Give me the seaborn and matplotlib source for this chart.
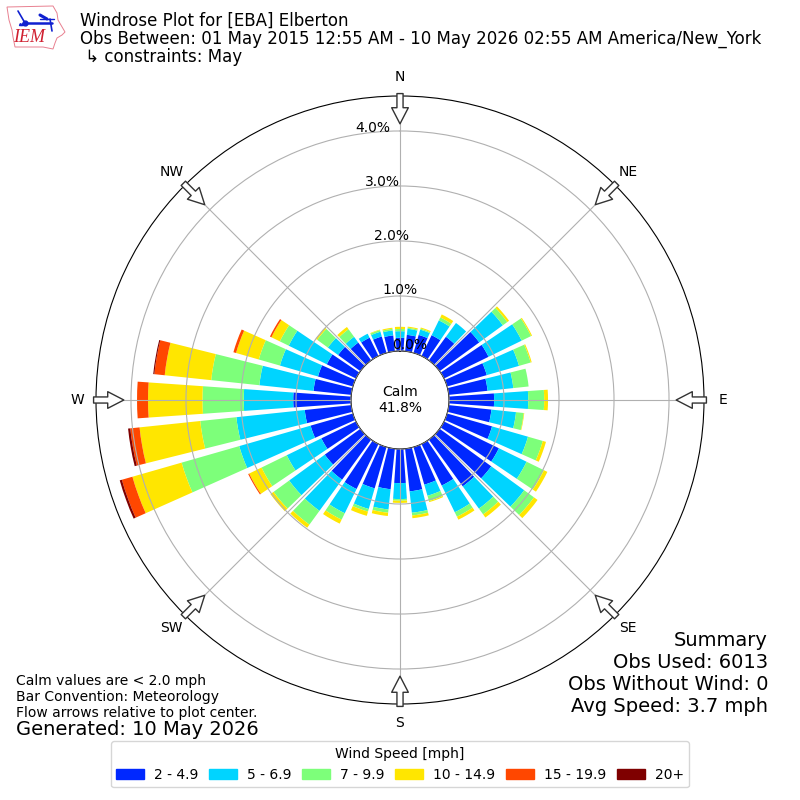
import numpy as np
import pandas as pd
import matplotlib
matplotlib.use('Agg')
import matplotlib.pyplot as plt
from matplotlib.patches import Patch
import seaborn as sns

# direction each bar points from, degrees (meteorological)
directions = list(range(0, 360, 10))

# percent of observations per speed class, one value per direction
speed_2_5 = [.24, .30, .34, .42, .53, .89, .90, .75, .71, .82, .78, .85,
             1.11, 1.16, 1.05, .84, .71, .78, .62, .74, .78, .91, .90, .80,
             .70, .80, .85, 1.05, .69, .66, .59, .50, .40, .37, .31, .29]
speed_5_7 = [.12, .11, .10, .30, .31, .53, .67, .61, .47, .62, .45, .68,
             .56, .74, .50, .54, .21, .39, .29, .37, .39, .49, .70, .80,
             .70, 1.35, 1.25, .90, .99, .72, .77, .23, .13, .08, .09, .09]
speed_7_10 = [.04, .02, .02, .06, 0, .10, .19, .22, .28, .29, .14, .28,
              .35, .22, .13, .09, .10, .05, .03, .06, .05, .13, .31, .35,
              .51, 1.09, .66, .75, .88, .40, .18, .24, .17, 0, .03, .03]
speed_10_15 = [.04, .02, .02, .06, 0, .04, .02, .02, 0, .07, .01, .06,
               .07, .08, .07, .06, .02, .05, .04, .06, .08, .08, .07, .07,
               .25, .93, 1.11, .99, .85, .43, .17, .03, .05, 0, .01, .02]
speed_15_20 = [0, 0, 0, 0, 0, 0, 0, 0, 0, 0, 0, 0,
               0, 0, 0, 0, 0, 0, 0, 0, 0, 0, 0, 0,
               .02, .20, .17, .20, .19, .05, .03, 0, 0, 0, 0, 0]
speed_20 = [0, 0, 0, 0, 0, 0, 0, 0, 0, 0, 0, 0,
            0, 0, 0, 0, 0, 0, 0, 0, 0, 0, 0, 0,
            0, .04, .04, 0, .02, 0, 0, 0, 0, 0, 0, 0]

speed_labels = ['2 - 4.9', '5 - 6.9', '7 - 9.9', '10 - 14.9', '15 - 19.9', '20+']
speed_colors = ['#0028ff', '#00d4ff', '#7dff7a', '#ffe600', '#ff4700', '#7f0000']
speed_values = [speed_2_5, speed_5_7, speed_7_10, speed_10_15, speed_15_20, speed_20]

compass = ['N', 'NE', 'E', 'SE', 'S', 'SW', 'W', 'NW']
compass_deg = [0, 45, 90, 135, 180, 225, 270, 315]
ring_ticks = [0, 1, 2, 3, 4]

# outline of the logo, roughly Iowa
logo_x = [7, 53, 57, 58, 65, 62, 57, 55, 53, 43, 15, 13, 12, 9, 7]
logo_y = [7, 6, 13, 20, 32, 35, 38, 43, 49, 47, 47, 37, 30, 20, 7]

rows = []
for label, vals in zip(speed_labels, speed_values):
    for d, v in zip(directions, vals):
        rows.append({'dir': np.radians(d), 'speed': label, 'pct': v})
df = pd.DataFrame(rows)

sns.set_style('white', {'axes.edgecolor': 'black', 'text.color': 'black',
                        'xtick.color': 'black', 'ytick.color': 'black'})
plt.rcParams['font.family'] = ['DejaVu Sans']

fig = plt.figure(figsize=(8, 8), dpi=100)
ax = fig.add_axes([0.12, 0.12, 0.76, 0.76], projection='polar')

# seaborn stacks the first hue on top, so the order goes slowest last
edges = np.radians(np.arange(-5, 360, 10)).tolist()
sns.histplot(data=df, x='dir', weights='pct', hue='speed', hue_order=speed_labels[::-1],
             palette=dict(zip(speed_labels, speed_colors)), multiple='stack', bins=edges,
             shrink=0.8, alpha=1, linewidth=0, legend=False, ax=ax)

ax.set_theta_zero_location('N')
ax.set_theta_direction(-1)
ax.set_xlim(0, 2 * np.pi)
ax.set_rorigin(-0.891)
ax.set_ylim(0, 4.636)
ax.set_xlabel('')
ax.set_ylabel('')

ax.set_axisbelow(False)
ax.grid(True, color='#b0b0b0', lw=0.8)
ax.set_xticks(np.radians(compass_deg))
ax.set_xticklabels(compass, fontsize=10)
ax.tick_params(axis='x', pad=3)
ax.set_yticks(ring_ticks)
ax.set_yticklabels([f'{t:.1f}%' for t in ring_ticks], fontsize=10)
ax.tick_params(axis='y', pad=-1.5)
ax.set_rlabel_position(-9.5)

# flow arrows, pointing to the middle of the plot
for deg in compass_deg:
    ax.annotate('', xy=(np.radians(deg), 4.13), xytext=(np.radians(deg), 4.68),
                annotation_clip=False,
                arrowprops=dict(arrowstyle='simple,head_length=0.58,head_width=0.6,tail_width=0.22',
                                mutation_scale=20, fc='white', ec='#333333', lw=1,
                                shrinkA=0, shrinkB=0))

ax.text(0.5, 0.5, 'Calm\n41.8%', transform=ax.transAxes, ha='center', va='center', fontsize=10)

fig.text(0.1, 0.985, 'Windrose Plot for [EBA] Elberton\n'
         'Obs Between: 01 May 2015 12:55 AM - 10 May 2026 02:55 AM America/New_York\n'
         ' ↳ constraints: May', fontsize=12, va='top', ha='left', linespacing=0.98)

fig.text(0.96, 0.1055, 'Summary\nObs Used: 6013\nObs Without Wind: 0\nAvg Speed: 3.7 mph',
         fontsize=14, ha='right', va='bottom')
fig.text(0.02, 0.10, 'Calm values are < 2.0 mph\nBar Convention: Meteorology\n'
         'Flow arrows relative to plot center.', fontsize=10, ha='left', va='bottom')
fig.text(0.02, 0.1, 'Generated: 10 May 2026', fontsize=14, ha='left', va='top')

handles = [Patch(color=c, label=l) for c, l in zip(speed_colors, speed_labels)]
fig.legend(handles=handles, title='Wind Speed [mph]', ncol=6, loc='lower center',
           bbox_to_anchor=(0.5, 0.007), fontsize=10, columnspacing=0.8, handletextpad=0.7)

# logo, drawn in pixel coordinates
logo = fig.add_axes([0, 0.93, 0.09, 0.07])
logo.set_xlim(0, 72)
logo.set_ylim(56, 0)
logo.axis('off')
logo.fill(logo_x, logo_y, fc='white', ec='#e88090', lw=0.7)
logo.plot([25, 52], [23, 23], color='#1020d0', lw=1.8)
logo.plot([18, 25], [11, 23], color='#1020d0', lw=1.2)
logo.plot([40, 47], [15, 19], color='#1020d0', lw=2.2)
logo.plot([40, 54], [19, 19], color='#1020d0', lw=1)
logo.plot([50, 52], [19, 31], color='#1020d0', lw=1.2)
logo.plot([25], [23], 'o', color='#1020d0', ms=3.5)
logo.plot([20, 22], [24, 24], '^', color='#1020d0', ms=1.5)
logo.text(29.5, 38, 'IEM', color='#d02030', family='Liberation Serif', style='italic',
          fontsize=13, ha='center', va='center')

plt.savefig('out.png', dpi=100)
